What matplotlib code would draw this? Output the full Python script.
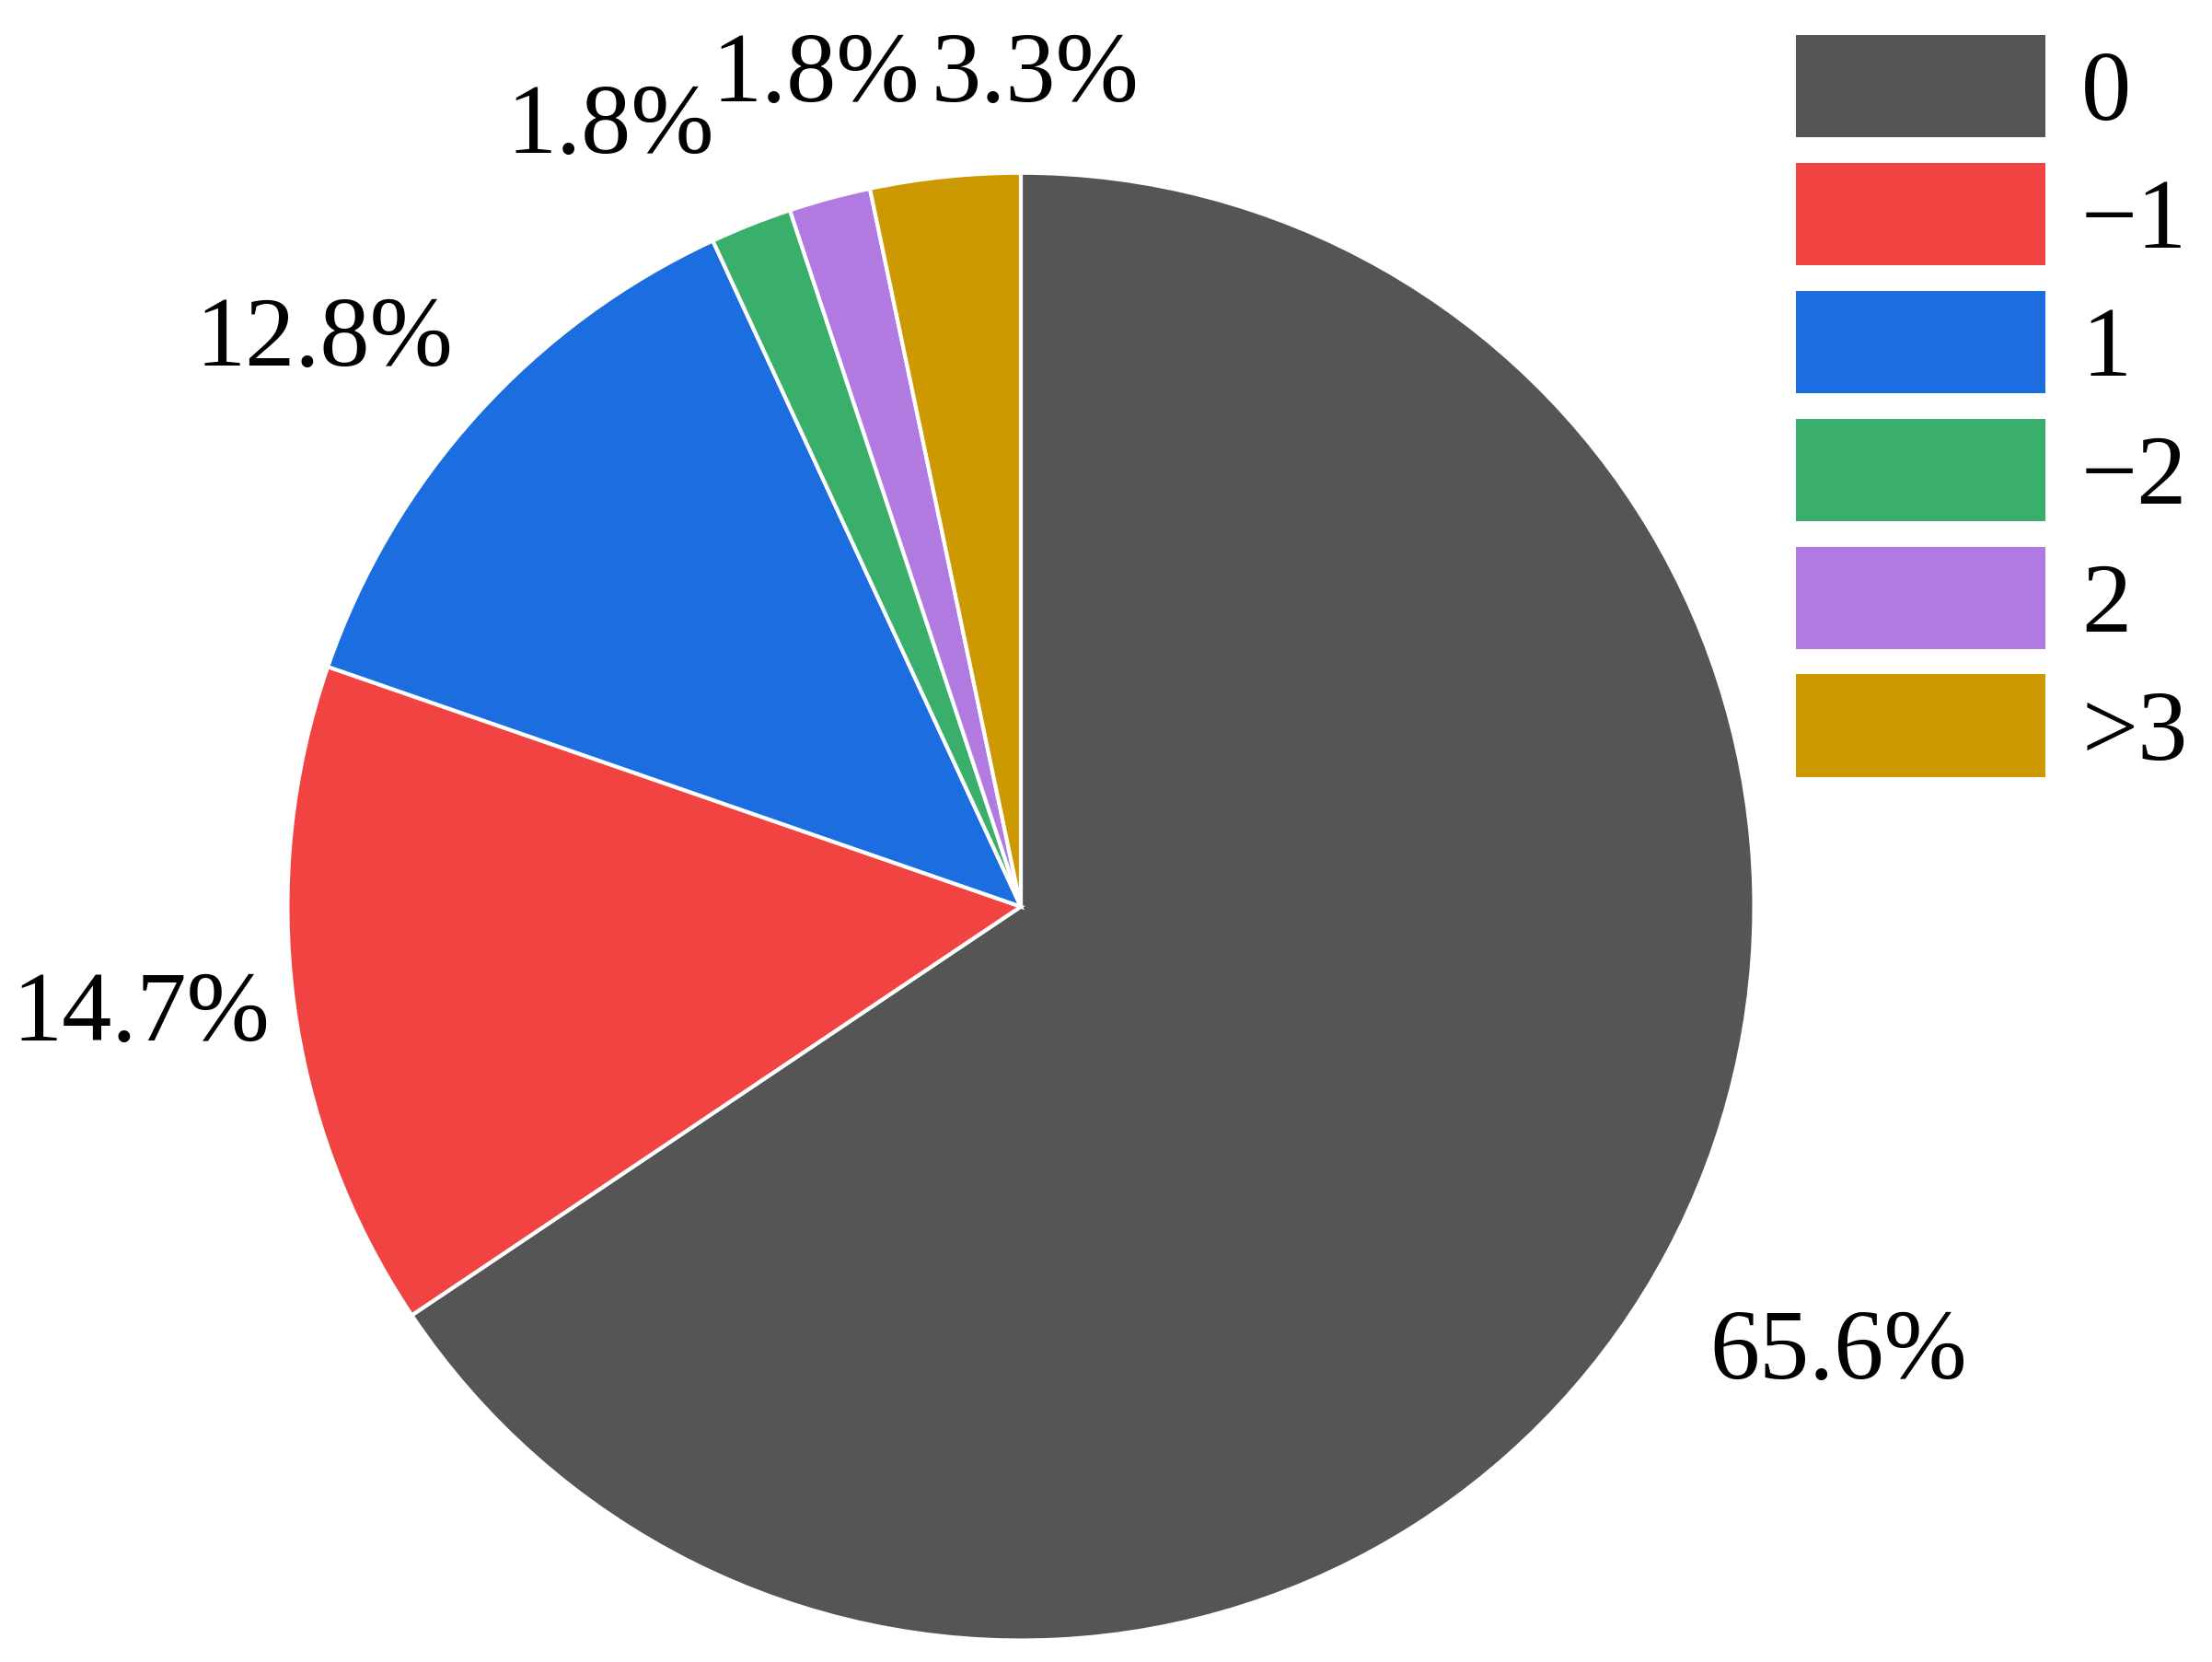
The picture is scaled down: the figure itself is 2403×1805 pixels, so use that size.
import matplotlib.pyplot as plt
from matplotlib.patches import Patch

plt.rcParams['font.family'] = ['Liberation Serif', 'DejaVu Serif']

categorias = ['0', '\u22121', '1', '\u22122', '2', '>3']
valores = [65.6, 14.7, 12.8, 1.8, 1.8, 3.3]
colores = ['#555555', '#f24343', '#1c6ee0', '#3aae6b', '#b07ae0', '#cc9900']

# label positions (in radius units), tuned to avoid overlaps of the small slices
pos_etiquetas = [(1.115, -0.61), (-1.2, -0.15), (-0.95, 0.77),
                 (-0.56, 1.06), (-0.28, 1.13), (0.02, 1.13)]

fig = plt.figure(figsize=(24.03, 18.05), dpi=100)
ax = fig.add_axes([0.130, 0.013, 0.663, 0.883])

wedges, textos, autotextos = ax.pie(
    valores, colors=colores, startangle=90, counterclock=False,
    autopct='%.1f%%', pctdistance=1.22, labeldistance=None,
    wedgeprops=dict(edgecolor='white', linewidth=3),
    textprops=dict(fontsize=78),
)
for t, p in zip(autotextos, pos_etiquetas):
    t.set_position(p)
    t.set_clip_on(False)
ax.set_aspect('auto')
ax.set_xlim(-1, 1)
ax.set_ylim(-1, 1)

handles = [Patch(facecolor=c) for c in colores]
fig.legend(handles, categorias, loc='upper left', bbox_to_anchor=(0.812, 0.979),
           frameon=False, fontsize=78, handlelength=2.5, handleheight=1.2,
           labelspacing=0.22, handletextpad=0.36, borderpad=0, borderaxespad=0)

fig.savefig('out.png', dpi=100)
